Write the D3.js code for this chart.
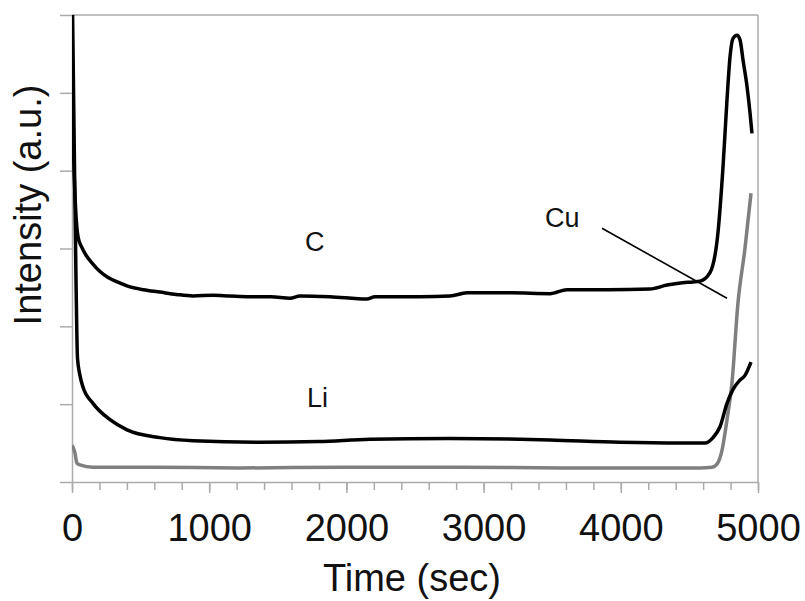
<!DOCTYPE html>
<html>
<head>
<meta charset="utf-8">
<script src="https://cdn.jsdelivr.net/npm/d3@7"></script>
<style>
  body { margin: 0; background: #fff; }
  svg { display: block; }
</style>
</head>
<body>
<svg id="chart"></svg>
<script>
// time (sec) / intensity (a.u.)
const cTime = [0, 5, 15, 30, 44, 70, 100, 153, 200, 260, 330, 401, 520, 641, 760, 882, 1028, 1150, 1297, 1450, 1589, 1662, 1880, 2150, 2208, 2536, 2755, 2879, 3200, 3484, 3608, 3900, 4213, 4337, 4450, 4526, 4577, 4650, 4708, 4745, 4774, 4796, 4818, 4847, 4869, 4891, 4920, 4942, 4956];
const cVals = [4.82, 4.6, 4.0, 3.4, 3.15, 3.02, 2.92, 2.8, 2.71, 2.63, 2.57, 2.52, 2.47, 2.44, 2.41, 2.39, 2.4, 2.39, 2.38, 2.38, 2.36, 2.39, 2.38, 2.35, 2.38, 2.38, 2.39, 2.43, 2.43, 2.42, 2.47, 2.47, 2.48, 2.53, 2.56, 2.57, 2.58, 2.69, 3.2, 4.05, 4.91, 5.46, 5.7, 5.74, 5.68, 5.42, 5.08, 4.74, 4.48];

const liTime = [0, 15, 30, 40, 58, 80, 153, 277, 401, 641, 882, 1370, 1800, 2172, 2755, 3265, 3484, 3994, 4431, 4614, 4672, 4723, 4774, 4818, 4869, 4905, 4949];
const liVals = [6.6, 4.5, 2.5, 1.59, 1.37, 1.22, 1.01, 0.8, 0.67, 0.57, 0.53, 0.51, 0.52, 0.55, 0.56, 0.55, 0.54, 0.51, 0.5, 0.5, 0.57, 0.71, 1.01, 1.19, 1.31, 1.37, 1.54];

const cuTime = [0, 7, 22, 36, 58, 153, 600, 1200, 2000, 2800, 3600, 4200, 4577, 4665, 4701, 4738, 4774, 4810, 4854, 4905, 4949];
const cuVals = [0.47, 0.45, 0.37, 0.24, 0.22, 0.19, 0.19, 0.18, 0.19, 0.19, 0.18, 0.18, 0.18, 0.19, 0.23, 0.41, 0.8, 1.27, 2.3, 3.0, 3.71];

const xMajor = [0, 1000, 2000, 3000, 4000, 5000];
const xMinor = d3.range(0, 5001, 200);
const yTicks = [0, 1, 2, 3, 4, 5, 6];

const labels = [
  { text: 'C', t: 1698, v: 2.97 },
  { text: 'Li', t: 1713, v: 0.96 },
  { text: 'Cu', t: 3448, v: 3.28 }
];
const cuPointer = [{ t: 3863, v: 3.26 }, { t: 4774, v: 2.36 }];

const width = 805;
const height = 601;
const margin = { top: 15, right: 47, bottom: 119, left: 72 };
const font = '"Liberation Sans", Arial, sans-serif';
const axisGrey = '#ababab';

const svg = d3.select('#chart')
  .attr('width', width)
  .attr('height', height)
  .style('background', '#fff');

const x = d3.scaleLinear()
  .domain([0, 5000])
  .range([margin.left, width - margin.right]);

const y = d3.scaleLinear()
  .domain([0, 6])
  .range([height - margin.bottom, margin.top]);

svg.append('defs').append('clipPath')
  .attr('id', 'plot-clip')
  .append('rect')
  .attr('x', margin.left)
  .attr('y', margin.top)
  .attr('width', x(5000) - margin.left)
  .attr('height', y(0) - margin.top);

// frame top and right
svg.append('line')
  .attr('x1', x(0)).attr('x2', x(5000))
  .attr('y1', y(6)).attr('y2', y(6))
  .attr('stroke', axisGrey).attr('stroke-width', 1.5);
svg.append('line')
  .attr('x1', x(5000)).attr('x2', x(5000))
  .attr('y1', y(6)).attr('y2', y(0))
  .attr('stroke', axisGrey).attr('stroke-width', 1.5);

// x axis: minor ticks, then major ticks with labels
const xMinorAxis = svg.append('g')
  .attr('transform', `translate(0,${y(0)})`)
  .call(d3.axisBottom(x).tickValues(xMinor).tickSize(8).tickSizeOuter(0).tickFormat(''));
xMinorAxis.select('.domain').remove();
xMinorAxis.selectAll('line').attr('stroke', axisGrey).attr('stroke-width', 1.5);

const xAxis = svg.append('g')
  .attr('transform', `translate(0,${y(0)})`)
  .call(d3.axisBottom(x).tickValues(xMajor).tickSize(11).tickSizeOuter(0).tickPadding(21).tickFormat(d3.format('d')));
xAxis.select('.domain').attr('stroke', axisGrey).attr('stroke-width', 1.5);
xAxis.selectAll('line').attr('stroke', axisGrey).attr('stroke-width', 1.5);
xAxis.selectAll('text')
  .attr('font-family', font)
  .attr('font-size', '38px')
  .attr('fill', '#111');

// y axis, no labels
const yAxis = svg.append('g')
  .attr('transform', `translate(${margin.left},0)`)
  .call(d3.axisLeft(y).tickValues(yTicks).tickSize(12).tickSizeOuter(0).tickFormat(''));
yAxis.select('.domain').attr('stroke', axisGrey).attr('stroke-width', 1.5);
yAxis.selectAll('line').attr('stroke', axisGrey).attr('stroke-width', 1.5);

// axis titles
svg.append('text')
  .attr('x', (x(0) + x(5000)) / 2 - 3)
  .attr('y', 591)
  .attr('text-anchor', 'middle')
  .attr('font-family', font)
  .attr('font-size', '38px')
  .attr('fill', '#111')
  .text('Time (sec)');

svg.append('text')
  .attr('transform', 'translate(41,205) rotate(-90)')
  .attr('text-anchor', 'middle')
  .attr('font-family', font)
  .attr('font-size', '38px')
  .attr('fill', '#111')
  .text('Intensity (a.u.)');

const line = d3.line()
  .x(d => x(d[0]))
  .y(d => y(d[1]))
  .curve(d3.curveMonotoneX);

const plot = svg.append('g').attr('clip-path', 'url(#plot-clip)');

plot.append('path')
  .datum(d3.zip(cuTime, cuVals))
  .attr('d', line)
  .attr('fill', 'none')
  .attr('stroke', '#7f7f7f')
  .attr('stroke-width', 3.5)
  .attr('stroke-linejoin', 'round');

plot.append('path')
  .datum(d3.zip(liTime, liVals))
  .attr('d', line)
  .attr('fill', 'none')
  .attr('stroke', '#000')
  .attr('stroke-width', 3.5)
  .attr('stroke-linejoin', 'round');

plot.append('path')
  .datum(d3.zip(cTime, cVals))
  .attr('d', line)
  .attr('fill', 'none')
  .attr('stroke', '#000')
  .attr('stroke-width', 3.5)
  .attr('stroke-linejoin', 'round');

// pointer line for Cu
svg.append('line')
  .attr('x1', x(cuPointer[0].t)).attr('y1', y(cuPointer[0].v))
  .attr('x2', x(cuPointer[1].t)).attr('y2', y(cuPointer[1].v))
  .attr('stroke', '#000')
  .attr('stroke-width', 1.6);

svg.selectAll('.series-label')
  .data(labels)
  .join('text')
  .attr('class', 'series-label')
  .attr('x', d => x(d.t))
  .attr('y', d => y(d.v))
  .attr('font-family', font)
  .attr('font-size', '27px')
  .attr('fill', '#111')
  .text(d => d.text);
</script>
</body>
</html>
